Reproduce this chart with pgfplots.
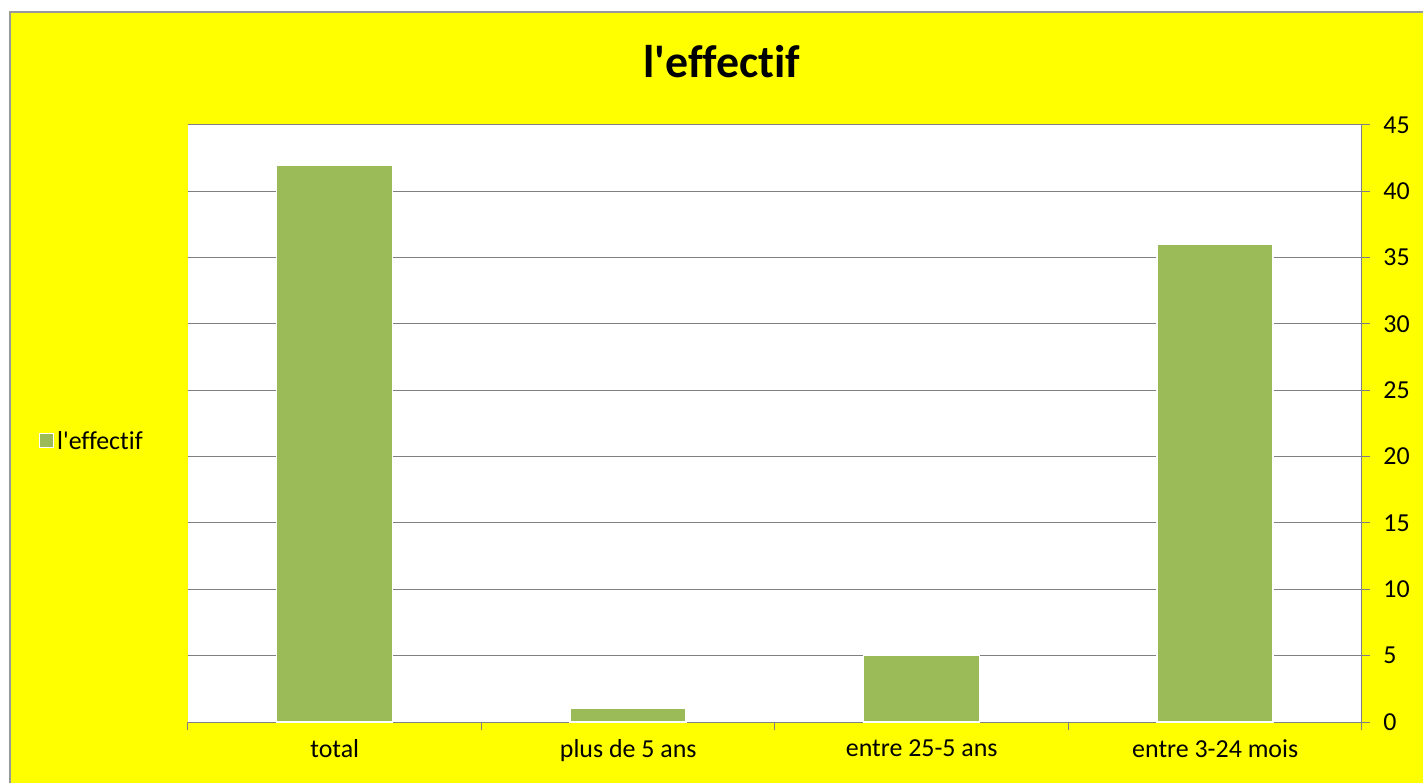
\documentclass[border=0pt]{standalone}
\usepackage{pgfplots}
\pgfplotsset{compat=1.18}
\usepackage{fontspec}
\setmainfont{Carlito}[Ligatures={TeXOff,NoCommon}]
\definecolor{bargreen}{RGB}{155,187,89}
\definecolor{gridgray}{RGB}{128,128,128}
\definecolor{bgyellow}{RGB}{255,255,0}
\begin{document}
\begin{tikzpicture}[x=1bp,y=1bp]
\path[use as bounding box] (-188,-61) rectangle (1235,722);
\fill[bgyellow] (-178,-61) rectangle (1235,710);
\draw[gray!80, line width=1.2bp] (-178,-61) -- (-178,710) -- (1235,710);
\begin{axis}[
  at={(0,0)}, anchor=south west,
  scale only axis, width=1174bp, height=597bp,
  axis background/.style={fill=white},
  ybar, bar width=116bp,
  xmin=-0.5, xmax=3.5, ymin=0, ymax=45,
  axis x line*=bottom, axis y line*=right,
  axis line style={gridgray, line width=1bp},
  xtick={0,1,2,3},
  xticklabels={total, plus de 5 ans, entre 25-5 ans, entre 3-24 mois},
  major x tick style={draw=none},
  minor xtick={-0.5,0.5,1.5,2.5,3.5},
  minor tick length=8bp,
  minor x tick style={gridgray, line width=1bp},
  ytick={0,5,...,45},
  major tick length=8bp,
  tick align=outside,
  y tick style={gridgray, line width=1bp},
  ymajorgrids, grid style={gridgray, line width=1bp},
  yticklabel pos=right,
  /pgf/number format/assume math mode=true,
  ticklabel style={font=\fontsize{26}{30}\selectfont, text=black},
  x tick label style={yshift=-6bp},
  y tick label style={xshift=10bp},
  legend style={at={(-0.127,0.471)}, anchor=west, draw=none, fill=none,
    font=\fontsize{26}{30}\selectfont, inner sep=0pt,
    /tikz/every even column/.append style={column sep=0pt},
    nodes={inner sep=3bp}},
  legend image code/.code={\draw[fill=bargreen, draw=white, line width=1bp] (0bp,-7bp) rectangle (14bp,7bp);},
]
\addplot[fill=bargreen, draw=white, line width=1.5bp] coordinates {(0,42) (1,1) (2,5) (3,36)};
\addlegendentry{l'effectif}
\end{axis}
\node[font=\bfseries\fontsize{46}{54}\selectfont] at (534,660) {l'effectif};
\end{tikzpicture}
\end{document}
